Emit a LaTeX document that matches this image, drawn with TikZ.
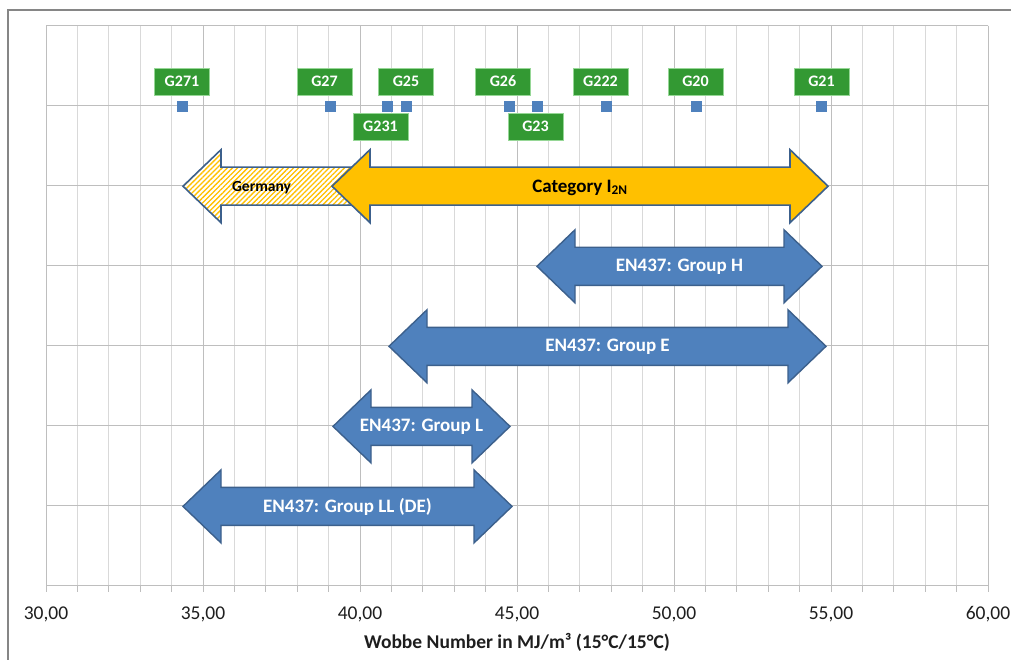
\documentclass[tikz,border=0pt]{standalone}
\usepackage{fontspec}
\setmainfont{Carlito}
\usetikzlibrary{patterns.meta}
\definecolor{gridminor}{RGB}{217,217,217}
\definecolor{gridmajor}{RGB}{190,190,190}
\definecolor{framegray}{RGB}{134,134,134}
\definecolor{barblue}{RGB}{79,129,189}
\definecolor{barborder}{RGB}{60,96,140}
\definecolor{catorange}{RGB}{255,192,0}
\definecolor{labgreen}{RGB}{51,153,51}
\definecolor{labborder}{RGB}{150,215,150}
\definecolor{markblue}{RGB}{79,129,189}
\definecolor{ticktext}{RGB}{30,30,30}
\newcommand\wbDbl[4]{%
  \draw[#4] (#1,#3) -- (#1+38,#3-36.5) -- (#1+38,#3-19) -- (#2-38,#3-19)
    -- (#2-38,#3-36.5) -- (#2,#3) -- (#2-38,#3+36.5) -- (#2-38,#3+19)
    -- (#1+38,#3+19) -- (#1+38,#3+36.5) -- cycle;}
\begin{document}
\begin{tikzpicture}[x=1pt,y=-1pt,
  bluearrow/.style={fill=barblue,draw=barborder,line width=1.4pt,line join=miter},
  catarrow/.style={fill=catorange,draw=barborder,line width=1.6pt,line join=miter},
  gerarrow/.style={draw=barborder,line width=1.6pt,line join=miter,
     preaction={fill=white},
     pattern={Lines[angle=45,distance=3.6pt,line width=1.3pt]},pattern color=catorange},
  armlabel/.style={text=white,font=\bfseries\fontsize{19}{21}\selectfont,inner sep=0pt},
  glab/.style={fill=labgreen,draw=labborder,line width=0.8pt,text=white,
     font=\bfseries\fontsize{16}{18}\selectfont,minimum width=55pt,minimum height=27pt,inner sep=0pt},
  mk/.style={rectangle,fill=markblue,minimum size=11pt,inner sep=0pt},
  ticklab/.style={text=ticktext,font=\fontsize{19.5}{21}\selectfont,anchor=base,inner sep=0pt},
]
\useasboundingbox (0,0) rectangle (1011,660);
\fill[white] (0,0) rectangle (1011,660);
% frame
\draw[framegray,line width=1.3pt] (8,661) -- (8,10) -- (1012,10);
% vertical grid
\foreach \i in {0,...,30} {
  \draw[gridminor,line width=1pt] ({46+\i*31.4},25.7) -- ({46+\i*31.4},586);
  \draw[gridmajor,line width=1pt] ({46+\i*31.4},586) -- ({46+\i*31.4},592);
}
\foreach \i in {0,5,...,30} {
  \draw[gridmajor,line width=1pt] ({46+\i*31.4},25.7) -- ({46+\i*31.4},586);
}
% horizontal grid
\foreach \k in {0,...,7} {
  \draw[gridmajor,line width=1pt] (46,{25.7+\k*80.04}) -- (988,{25.7+\k*80.04});
}
% tick labels
\foreach \v [count=\j from 0] in {30,35,40,45,50,55,60} {
  \node[ticklab] (tick\v) at ({46+\j*157},619.3) {\v,00};
}
\node[ticklab,font=\bfseries\fontsize{19.5}{21}\selectfont] (xtitle) at (517,648) {Wobbe Number in MJ/m³ (15°C/15°C)};
% Germany arrow
\draw[gerarrow] (183,186.2) -- (221,149.7) -- (221,167.2) -- (360,167.2) -- (360,205.2)
   -- (221,205.2) -- (221,222.7) -- cycle;
\node[inner sep=0pt,font=\bfseries\fontsize{15.5}{17}\selectfont] (ger) at (261.5,188) {Germany};
% Category arrow
\wbDbl{332}{828}{186.2}{catarrow}
\node[inner sep=0pt,font=\bfseries\fontsize{19}{21}\selectfont] (cat) at (580,187.5) {Category I\textsubscript{2N}};
% EN437 groups
\wbDbl{537}{822}{266.3}{bluearrow}
\node[armlabel] (grpH) at (679.5,267) {EN437: Group H};
\wbDbl{389}{826}{346.3}{bluearrow}
\node[armlabel] (grpE) at (607.5,347) {EN437: Group E};
\wbDbl{333}{510}{426.4}{bluearrow}
\node[armlabel] (grpL) at (421.5,427) {EN437: Group L};
\wbDbl{183}{512}{506.4}{bluearrow}
\node[armlabel] (grpLL) at (347.5,507) {EN437: Group LL (DE)};
% markers
\node[mk] (mG271) at (182,106.5) {};
\node[mk] (mG27) at (330,106.5) {};
\node[mk] (mG231) at (387,106.5) {};
\node[mk] (mG25) at (406.5,106.5) {};
\node[mk] (mG26) at (509,106.5) {};
\node[mk] (mG23) at (537.5,106.5) {};
\node[mk] (mG222) at (606.5,106.5) {};
\node[mk] (mG20) at (696,106.5) {};
\node[mk] (mG21) at (821.5,106.5) {};
% labels
\node[glab] (G271) at (182,81.5) {G271};
\node[glab] (G27) at (324.5,81.5) {G27};
\node[glab] (G25) at (406,81.5) {G25};
\node[glab] (G231) at (380.5,126.5) {G231};
\node[glab] (G26) at (503,81.5) {G26};
\node[glab] (G23) at (535.5,126.5) {G23};
\node[glab] (G222) at (600.5,81.5) {G222};
\node[glab] (G20) at (695.5,81.5) {G20};
\node[glab] (G21) at (821.5,81.5) {G21};
\end{tikzpicture}
\end{document}
